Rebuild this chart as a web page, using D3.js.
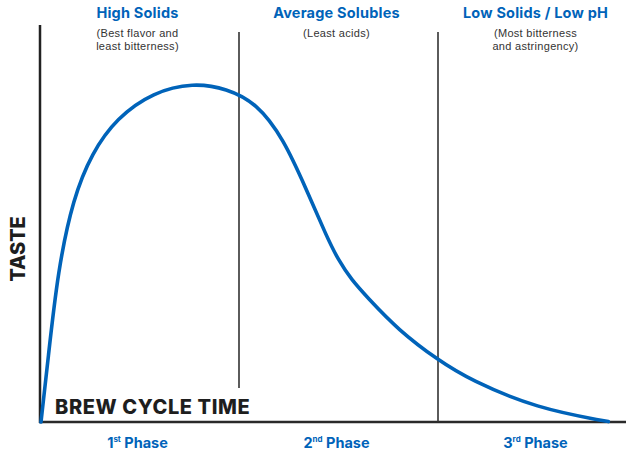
<!DOCTYPE html>
<html lang="en">
<head>
<meta charset="UTF-8">
<title>Brew cycle taste</title>
<script src="https://d3js.org/d3.v7.min.js"></script>
<style>
  body { margin: 0; background: #fff; }
  svg { display: block; }
</style>
</head>
<body>
<script>
// phases: x in phase units (0..3), taste 0..100
var phaseNames = ["High Solids", "Average Solubles", "Low Solids / Low pH"];
var phaseNotes = [["(Best flavor and", "least bitterness)"], ["(Least acids)"], ["(Most bitterness", "and astringency)"]];
var phaseOrd = [["1", "st"], ["2", "nd"], ["3", "rd"]];
var timeVals = [0.005, 0.04, 0.09, 0.167, 0.26, 0.385, 0.569, 0.77, 0.938, 1.089, 1.223, 1.34,
                1.441, 1.499, 1.566, 1.642, 1.8, 2.002, 2.161, 2.496, 2.856];
var tasteVals = [0, 15.5, 38, 56, 67.2, 76, 82.5, 84.8, 83.4, 79.7, 70.9, 58,
                 46.3, 40.5, 35.5, 31.3, 23, 15.4, 10.5, 3.4, 0.1];

var W = 626, H = 452;
var blue = "#0063b9";
var x = d3.scaleLinear().domain([0, 3]).range([40, 637]);
var y = d3.scaleLinear().domain([0, 100]).range([422, 22]);

var svg = d3.select("body").append("svg").attr("width", W).attr("height", H);

// axes
svg.append("line").attr("x1", 40).attr("x2", 40).attr("y1", 25).attr("y2", 423)
  .attr("stroke", "#222").attr("stroke-width", 2.5);
svg.append("line").attr("x1", 39).attr("x2", W).attr("y1", 422).attr("y2", 422)
  .attr("stroke", "#2a2a2a").attr("stroke-width", 2.5);

// phase dividers
svg.append("line").attr("x1", x(1)).attr("x2", x(1)).attr("y1", 32).attr("y2", 388)
  .attr("stroke", "#333").attr("stroke-width", 1.6);
svg.append("line").attr("x1", x(2)).attr("x2", x(2)).attr("y1", 32).attr("y2", 422)
  .attr("stroke", "#333").attr("stroke-width", 1.6);

// curve
var pts = timeVals.map(function(t, i) { return [t, tasteVals[i]]; });
var line = d3.line()
  .x(function(d) { return x(d[0]); })
  .y(function(d) { return y(d[1]); })
  .curve(d3.curveBasis);
svg.append("path").attr("d", line(pts))
  .attr("fill", "none").attr("stroke", blue).attr("stroke-width", 3.6).attr("stroke-linecap", "round");

// headers
phaseNames.forEach(function(name, i) {
  var cx = x(i + 0.5) - 2;
  svg.append("text").attr("x", cx).attr("y", 18).attr("text-anchor", "middle")
    .attr("font-family", "Inter, 'Open Sans', sans-serif").attr("font-weight", 700)
    .attr("font-size", 14.5).attr("letter-spacing", 0.2).attr("fill", blue).text(name);
  phaseNotes[i].forEach(function(s, j) {
    svg.append("text").attr("x", cx).attr("y", 37 + j * 13).attr("text-anchor", "middle")
      .attr("font-family", "'Liberation Sans', Arial, sans-serif")
      .attr("font-size", 11).attr("letter-spacing", 0.3).attr("fill", "#333").text(s);
  });
  var t = svg.append("text").attr("x", cx).attr("y", 448).attr("text-anchor", "middle")
    .attr("font-family", "Inter, 'Open Sans', sans-serif").attr("font-weight", 700)
    .attr("font-size", 14.5).attr("fill", blue);
  t.append("tspan").text(phaseOrd[i][0]);
  t.append("tspan").attr("font-size", 8).attr("dy", -6).text(phaseOrd[i][1]);
  t.append("tspan").attr("dy", 6).text(" Phase");
});

// axis titles
svg.append("text").attr("x", 55).attr("y", 414)
  .attr("font-family", "Inter, 'Open Sans', sans-serif").attr("font-weight", 800)
  .attr("font-size", 20).attr("letter-spacing", 0.6).attr("fill", "#1e1e1e").text("BREW CYCLE TIME");
svg.append("text").attr("transform", "translate(25,249) rotate(-90)").attr("text-anchor", "middle")
  .attr("font-family", "Inter, 'Open Sans', sans-serif").attr("font-weight", 800)
  .attr("font-size", 20).attr("fill", "#1e1e1e").text("TASTE");
</script>
</body>
</html>
